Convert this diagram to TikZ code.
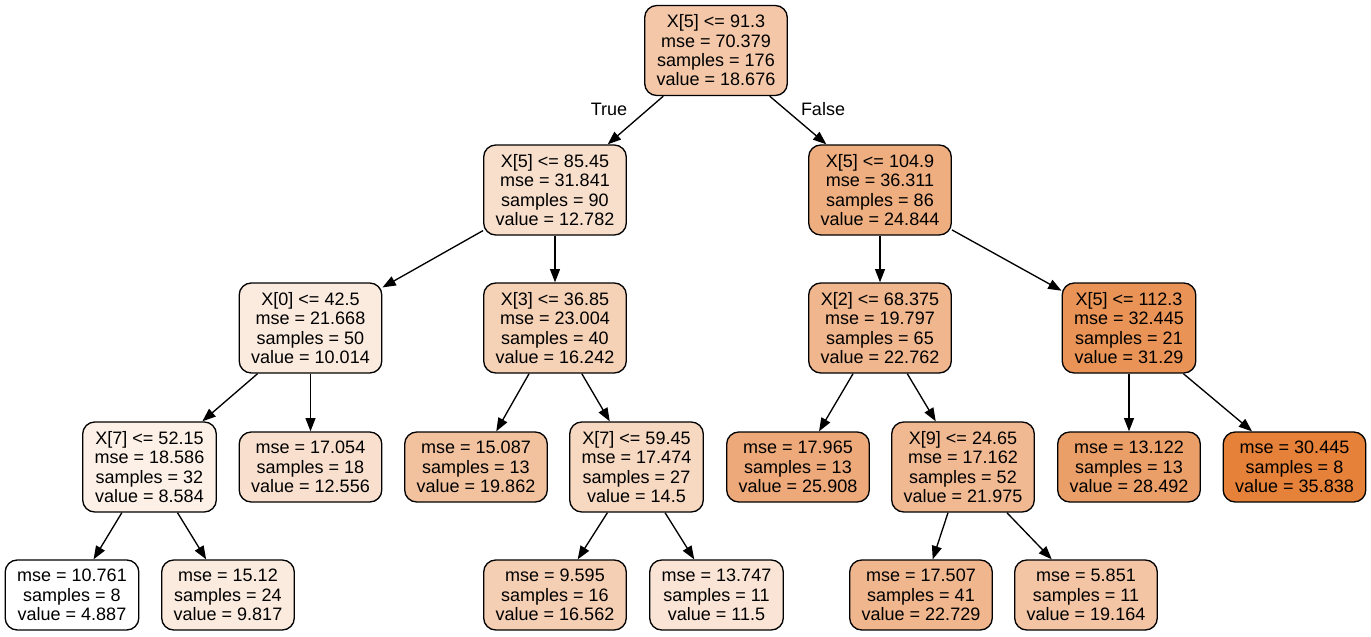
\documentclass[tikz,border=0pt]{standalone}
\usepackage{fontspec}
\setmainfont{Liberation Sans}
\usetikzlibrary{arrows.meta}
\definecolor{orng}{HTML}{E58139}
\begin{document}
\begin{tikzpicture}[x=0.75pt,y=-0.75pt,
  tn/.style={draw=black, line width=1pt, rounded corners=9pt, align=center,
    font=\fontsize{13.5}{14.5}\selectfont, inner xsep=9pt, inner ysep=0pt},
  split/.style={tn, minimum height=67.5pt},
  leaf/.style={tn, minimum height=52.5pt},
  edge/.style={line width=1pt, -{Triangle[length=10pt,width=7.5pt]}},
  elab/.style={font=\fontsize{13.5}{14.5}\selectfont, inner sep=0pt}]
\useasboundingbox (0,0) rectangle (1371,636);
% level 0
\node[split, fill=orng!44.55] (n0) at (716,50.5) {X[5] <= 91.3\\mse = 70.379\\samples = 176\\value = 18.676};
% level 1
\node[split, fill=orng!25.51] (n1) at (555,190) {X[5] <= 85.45\\mse = 31.841\\samples = 90\\value = 12.782};
\node[split, fill=orng!64.48] (n2) at (880,190) {X[5] <= 104.9\\mse = 36.311\\samples = 86\\value = 24.844};
% level 2
\node[split, fill=orng!16.57] (n3) at (310.5,328) {X[0] <= 42.5\\mse = 21.668\\samples = 50\\value = 10.014};
\node[split, fill=orng!36.69] (n4) at (555,328) {X[3] <= 36.85\\mse = 23.004\\samples = 40\\value = 16.242};
\node[split, fill=orng!57.75] (n5) at (880,328) {X[2] <= 68.375\\mse = 19.797\\samples = 65\\value = 22.762};
\node[split, fill=orng!85.30] (n6) at (1129,328) {X[5] <= 112.3\\mse = 32.445\\samples = 21\\value = 31.29};
% level 3
\node[split, fill=orng!11.94] (n7) at (149.5,467) {X[7] <= 52.15\\mse = 18.586\\samples = 32\\value = 8.584};
\node[leaf, fill=orng!24.78] (n8) at (310.5,467) {mse = 17.054\\samples = 18\\value = 12.556};
\node[leaf, fill=orng!48.38] (n9) at (476,467) {mse = 15.087\\samples = 13\\value = 19.862};
\node[split, fill=orng!31.06] (n10) at (636.5,467) {X[7] <= 59.45\\mse = 17.474\\samples = 27\\value = 14.5};
\node[leaf, fill=orng!67.92] (n11) at (798,467) {mse = 17.965\\samples = 13\\value = 25.908};
\node[split, fill=orng!55.21] (n12) at (963,467) {X[9] <= 24.65\\mse = 17.162\\samples = 52\\value = 21.975};
\node[leaf, fill=orng!76.27] (n13) at (1129,467) {mse = 13.122\\samples = 13\\value = 28.492};
\node[leaf, fill=orng] (n14) at (1294.5,467) {mse = 30.445\\samples = 8\\value = 35.838};
% level 4
\node[leaf, fill=white] (n15) at (72,595) {mse = 10.761\\samples = 8\\value = 4.887};
\node[leaf, fill=orng!15.93] (n16) at (228,595) {mse = 15.12\\samples = 24\\value = 9.817};
\node[leaf, fill=orng!37.72] (n17) at (555,595) {mse = 9.595\\samples = 16\\value = 16.562};
\node[leaf, fill=orng!21.37] (n18) at (716.5,595) {mse = 13.747\\samples = 11\\value = 11.5};
\node[leaf, fill=orng!57.65] (n19) at (921,595) {mse = 17.507\\samples = 41\\value = 22.729};
\node[leaf, fill=orng!46.13] (n20) at (1086,595) {mse = 5.851\\samples = 11\\value = 19.164};
% edges
\draw[edge] (n0) -- (n1);
\draw[edge] (n0) -- (n2);
\draw[edge] (n1) -- (n3);
\draw[edge] (n1) -- (n4);
\draw[edge] (n2) -- (n5);
\draw[edge] (n2) -- (n6);
\draw[edge] (n3) -- (n7);
\draw[edge] (n3) -- (n8);
\draw[edge] (n4) -- (n9);
\draw[edge] (n4) -- (n10);
\draw[edge] (n5) -- (n11);
\draw[edge] (n5) -- (n12);
\draw[edge] (n6) -- (n13);
\draw[edge] (n6) -- (n14);
\draw[edge] (n7) -- (n15);
\draw[edge] (n7) -- (n16);
\draw[edge] (n10) -- (n17);
\draw[edge] (n10) -- (n18);
\draw[edge] (n12) -- (n19);
\draw[edge] (n12) -- (n20);
% edge labels
\node[elab] (ltrue) at (609,109) {True};
\node[elab] (lfalse) at (823,109) {False};
\end{tikzpicture}
\end{document}
